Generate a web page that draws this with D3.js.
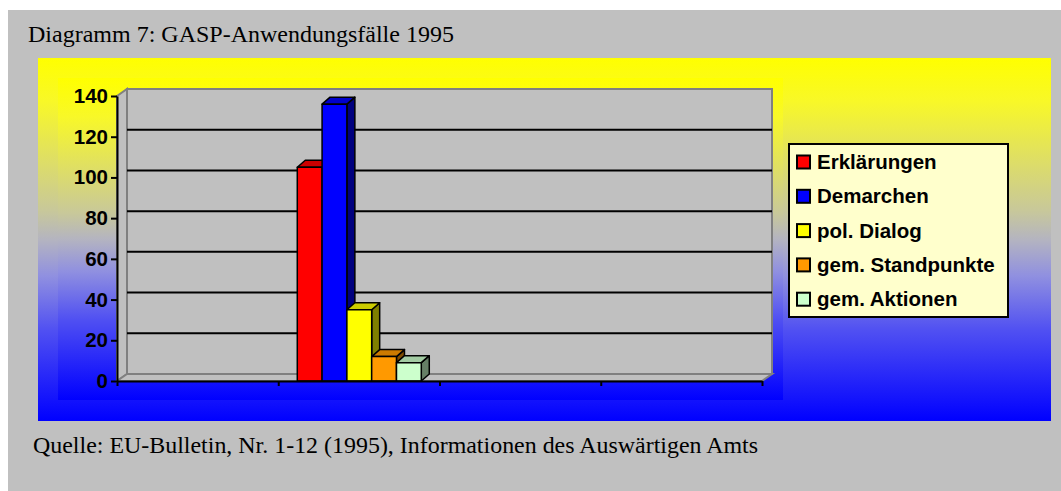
<!DOCTYPE html>
<html>
<head>
<meta charset="utf-8">
<script src="https://cdn.jsdelivr.net/npm/d3@7"></script>
<style>
  body { margin: 0; background: #fff; }
  svg { display: block; }
</style>
</head>
<body>
<div id="chart"></div>
<script>
// chart data
const categories = ['', '1995', '', ''];
const dataCategory = 1;
const series = ['Erklärungen', 'Demarchen', 'pol. Dialog', 'gem. Standpunkte', 'gem. Aktionen'];
const values = [105, 136, 35, 12, 9];
const colors = ['#ff0000', '#0000ff', '#ffff00', '#ff9900', '#ccffcc'];
const yTicks = [0, 20, 40, 60, 80, 100, 120, 140];
const title = 'Diagramm 7: GASP-Anwendungsfälle 1995';
const source = 'Quelle: EU-Bulletin, Nr. 1-12 (1995), Informationen des Auswärtigen Amts';

const width = 1061,
  height = 491;

// 3d depth of walls and bars
const wallDx = 10,
  wallDy = -7;
const barDx = 8,
  barDy = -7;

const svg = d3
  .select('#chart')
  .append('svg')
  .attr('width', width)
  .attr('height', height);

const defs = svg.append('defs');
const grad = defs
  .append('linearGradient')
  .attr('id', 'bg')
  .attr('x1', 0)
  .attr('y1', 0)
  .attr('x2', 0)
  .attr('y2', 1);
[
  [0, '#ffff00'],
  [0.12, '#f8f828'],
  [0.42, '#c8c89a'],
  [0.5, '#b4b4c0'],
  [0.6, '#9090e0'],
  [0.75, '#5050f2'],
  [1, '#0000ff'],
].forEach(s => grad.append('stop').attr('offset', s[0]).attr('stop-color', s[1]));

svg.append('rect').attr('width', width).attr('height', height).attr('fill', '#fff');
svg
  .append('rect')
  .attr('x', 8)
  .attr('y', 10)
  .attr('width', width - 8)
  .attr('height', height - 10)
  .attr('fill', '#c0c0c0');

svg
  .append('text')
  .attr('x', 28)
  .attr('y', 42)
  .style('font-family', '"Liberation Serif", "Times New Roman", serif')
  .style('font-size', '24px')
  .text(title);

svg
  .append('text')
  .attr('x', 33)
  .attr('y', 453)
  .attr('textLength', 725)
  .attr('lengthAdjust', 'spacingAndGlyphs')
  .style('font-family', '"Liberation Serif", "Times New Roman", serif')
  .style('font-size', '24px')
  .text(source);

// chart area + plot area
svg
  .append('rect')
  .attr('x', 38)
  .attr('y', 58)
  .attr('width', 1013)
  .attr('height', 363)
  .attr('fill', 'url(#bg)');
svg
  .append('rect')
  .attr('x', 58)
  .attr('y', 78)
  .attr('width', 725)
  .attr('height', 322)
  .attr('fill', 'url(#bg)');

const x = d3.scaleBand().domain(d3.range(categories.length)).range([117, 762]);
const xs = d3
  .scaleBand()
  .domain(series)
  .range([x.bandwidth() * 0.118, x.bandwidth() * 0.887]);
const y = d3.scaleLinear().domain([0, 140]).range([381, 96]);

const g = svg.append('g');
const x0 = x.range()[0],
  x1 = x.range()[1],
  y0 = y(0),
  yTop = y(140);

const pts = a => a.map(p => p.join(',')).join(' ');

// left wall
g.append('polygon')
  .attr('points', pts([[x0, yTop], [x0 + wallDx, yTop + wallDy], [x0 + wallDx, y0 + wallDy], [x0, y0]]))
  .attr('fill', '#c0c0c0')
  .attr('stroke', '#808080')
  .attr('stroke-width', 2);
// floor
g.append('polygon')
  .attr('points', pts([[x0, y0], [x1, y0], [x1 + wallDx, y0 + wallDy], [x0 + wallDx, y0 + wallDy]]))
  .attr('fill', '#c0c0c0')
  .attr('stroke', '#808080')
  .attr('stroke-width', 2);
// back wall
g.append('rect')
  .attr('x', x0 + wallDx)
  .attr('y', yTop + wallDy)
  .attr('width', x1 - x0)
  .attr('height', y0 - yTop)
  .attr('fill', '#c0c0c0')
  .attr('stroke', '#808080')
  .attr('stroke-width', 2);

// gridlines on back wall
g.selectAll('.grid')
  .data(yTicks.filter(d => d > 0 && d < 140))
  .enter()
  .append('line')
  .attr('x1', x0 + wallDx)
  .attr('x2', x1 + wallDx)
  .attr('y1', d => y(d) + wallDy)
  .attr('y2', d => y(d) + wallDy)
  .attr('stroke', '#000')
  .attr('stroke-width', 2);

// bars
const bars = g
  .selectAll('.bar')
  .data(series.map((s, i) => ({ name: s, value: values[i], color: colors[i] })))
  .enter()
  .append('g')
  .attr('class', 'bar')
  .attr('stroke', '#000')
  .attr('stroke-width', 1.5)
  .attr('stroke-linejoin', 'round');

bars.each(function (d) {
  const bx = x(dataCategory) + xs(d.name),
    bw = xs.bandwidth(),
    by = y(d.value);
  const b = d3.select(this);
  b.append('polygon')
    .attr('points', pts([[bx + bw, by], [bx + bw + barDx, by + barDy], [bx + bw + barDx, y0 + barDy], [bx + bw, y0]]))
    .attr('fill', d3.rgb(d.color).darker(1.95));
  b.append('polygon')
    .attr('points', pts([[bx, by], [bx + barDx, by + barDy], [bx + bw + barDx, by + barDy], [bx + bw, by]]))
    .attr('fill', d3.rgb(d.color).darker(0.63));
  b.append('rect')
    .attr('x', bx)
    .attr('y', by)
    .attr('width', bw)
    .attr('height', y0 - by)
    .attr('fill', d.color);
});

// axes
const fontAxis = g => {
  g.selectAll('text')
    .style('font-family', '"Liberation Sans", Arial, sans-serif')
    .style('font-size', '20.5px')
    .style('font-weight', 'bold')
    .attr('fill', '#000');
  g.selectAll('line, path').attr('stroke', '#000').attr('stroke-width', 2);
};

svg
  .append('g')
  .attr('transform', 'translate(' + x0 + ',0)')
  .call(d3.axisLeft(y).tickValues(yTicks).tickSize(6).tickSizeOuter(0).tickPadding(3))
  .call(fontAxis);

const xb = d3.scaleLinear().domain([0, categories.length]).range([x0, x1]);
svg
  .append('g')
  .attr('transform', 'translate(0,' + y0 + ')')
  .call(d3.axisBottom(xb).tickValues(d3.range(categories.length + 1)).tickFormat('').tickSize(5).tickSizeOuter(0))
  .call(fontAxis);

// legend
const legend = svg.append('g').attr('transform', 'translate(789,144)');
legend
  .append('rect')
  .attr('width', 219)
  .attr('height', 173)
  .attr('fill', '#ffffcc')
  .attr('stroke', '#000')
  .attr('stroke-width', 2);
const items = legend
  .selectAll('.item')
  .data(series)
  .enter()
  .append('g')
  .attr('transform', (d, i) => 'translate(0,' + (18 + i * 34.3) + ')');
items
  .append('rect')
  .attr('x', 8)
  .attr('y', -6.5)
  .attr('width', 13)
  .attr('height', 13)
  .attr('fill', (d, i) => colors[i])
  .attr('stroke', '#000')
  .attr('stroke-width', 2);
items
  .append('text')
  .attr('x', 28)
  .attr('dy', '0.35em')
  .style('font-family', '"Liberation Sans", Arial, sans-serif')
  .style('font-size', '20.5px')
  .style('font-weight', 'bold')
  .text(d => d);
</script>
</body>
</html>
